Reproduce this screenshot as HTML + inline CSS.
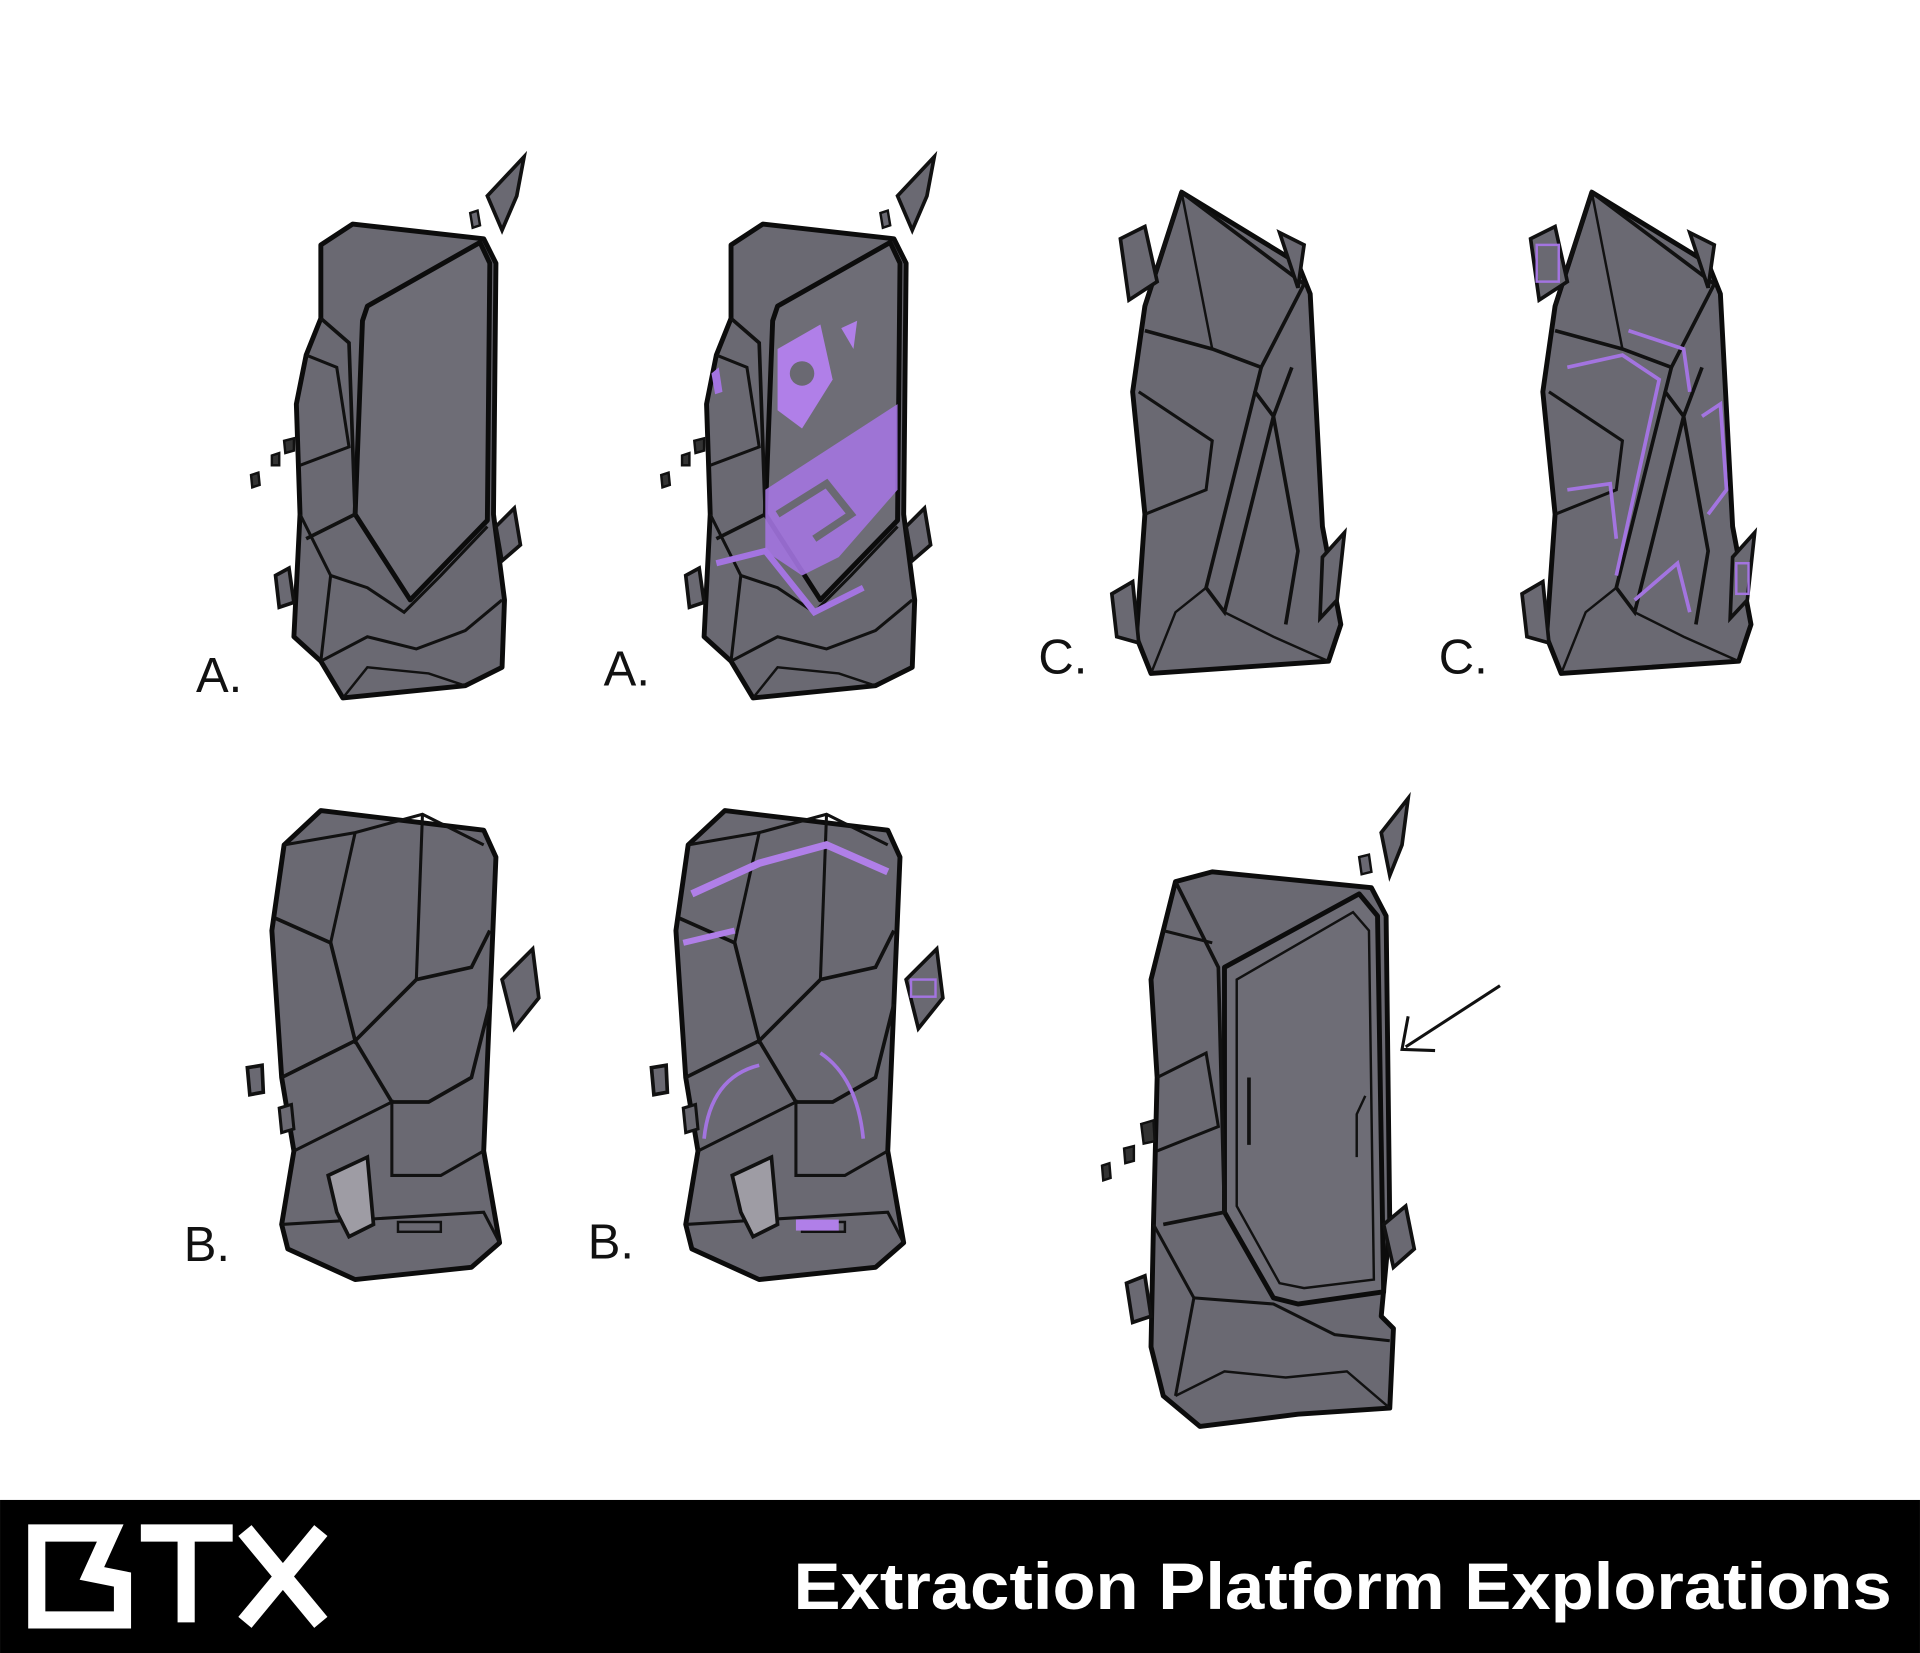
<!DOCTYPE html>
<html><head><meta charset="utf-8">
<style>
html,body{margin:0;padding:0;background:#fff;}
svg{display:block;}
</style></head><body>
<svg width="1920" height="1653" viewBox="0 0 1568 1350" xmlns="http://www.w3.org/2000/svg">
<defs>
<g id="rockA">
  <polygon points="288,183 395,195 405,215 403,420 412,490 410,545 380,560 280,570 262,540 240,520 245,420 242,330 250,290 262,260 262,200" fill="#6a6972" stroke="#0c0c0c" stroke-width="4" stroke-linejoin="round"/>
  <polygon points="300,250 392,198 400,215 398,425 335,490 290,420 296,262" fill="#6e6d76" stroke="#0c0c0c" stroke-width="4" stroke-linejoin="round"/>
  <polyline points="262,260 285,280 290,420 250,440" fill="none" stroke="#111" stroke-width="3"/>
  <polyline points="250,290 275,300 285,365 245,380" fill="none" stroke="#111" stroke-width="2.5"/>
  <polyline points="245,420 270,470 262,540" fill="none" stroke="#111" stroke-width="2.5"/>
  <polyline points="270,470 300,480 330,500 360,470 398,430" fill="none" stroke="#111" stroke-width="2.5"/>
  <polyline points="262,540 300,520 340,530 380,515 410,490" fill="none" stroke="#111" stroke-width="2.5"/>
  <polyline points="280,570 300,545 350,550 380,560" fill="none" stroke="#111" stroke-width="2"/>
  <polygon points="398,160 428,128 422,160 410,188" fill="#6a6972" stroke="#111" stroke-width="3"/>
  <polygon points="384,174 390,172 392,184 386,186" fill="#6a6972" stroke="#111" stroke-width="2"/>
  <polygon points="405,430 420,415 425,445 410,458" fill="#6a6972" stroke="#111" stroke-width="3"/>
  <polygon points="225,470 236,464 240,492 228,496" fill="#6a6972" stroke="#111" stroke-width="3"/>
  <polygon points="232,360 240,358 240,368 233,370" fill="#333" stroke="#111" stroke-width="2"/>
  <polygon points="222,372 228,370 228,380 222,380" fill="#333" stroke="#111" stroke-width="2"/>
  <polygon points="205,388 211,386 212,396 206,398" fill="#333" stroke="#111" stroke-width="2"/>
</g>
<g id="rockC">
  <polygon points="965,157 1060,215 1070,240 1080,430 1095,510 1085,540 940,550 928,520 935,420 925,320 935,250" fill="#6a6972" stroke="#0c0c0c" stroke-width="4" stroke-linejoin="round"/>
  <polyline points="935,250 965,157 1065,232 1030,300 990,285 935,270" fill="none" stroke="#111" stroke-width="3"/>
  <polyline points="965,157 990,285" fill="none" stroke="#111" stroke-width="2"/>
  <polyline points="1030,300 1025,320 1040,340 1055,300" fill="none" stroke="#111" stroke-width="3"/>
  <polyline points="1025,320 985,480 1000,500 1040,340 1060,450 1050,510" fill="none" stroke="#111" stroke-width="3"/>
  <polyline points="935,420 985,400 990,360 930,320" fill="none" stroke="#111" stroke-width="2.5"/>
  <polyline points="940,550 960,500 985,480" fill="none" stroke="#111" stroke-width="2"/>
  <polyline points="1000,500 1040,520 1085,540" fill="none" stroke="#111" stroke-width="2"/>
  <polygon points="915,195 935,185 945,230 922,245" fill="#6a6972" stroke="#111" stroke-width="3"/>
  <polygon points="1045,190 1065,200 1060,235" fill="#6a6972" stroke="#111" stroke-width="3"/>
  <polygon points="908,485 925,475 930,525 912,520" fill="#6a6972" stroke="#111" stroke-width="3"/>
  <polygon points="1080,455 1098,435 1092,490 1078,505" fill="#6a6972" stroke="#111" stroke-width="3"/>
</g>
<g id="rockB">
  <polygon points="262,662 395,678 405,700 400,820 395,940 408,1015 385,1035 290,1045 235,1020 230,1000 240,940 230,880 222,760 232,690" fill="#6a6972" stroke="#0c0c0c" stroke-width="4" stroke-linejoin="round"/>
  <polyline points="232,690 290,680 345,665 395,690" fill="none" stroke="#111" stroke-width="2.5"/>
  <polyline points="225,750 270,770 290,850 340,800 385,790 400,760" fill="none" stroke="#111" stroke-width="3"/>
  <polyline points="290,680 270,770" fill="none" stroke="#111" stroke-width="2.5"/>
  <polyline points="345,665 340,800" fill="none" stroke="#111" stroke-width="2.5"/>
  <polyline points="230,880 290,850 320,900 350,900 385,880 400,820" fill="none" stroke="#111" stroke-width="3"/>
  <polyline points="240,940 280,920 320,900 320,960 360,960 395,940" fill="none" stroke="#111" stroke-width="2.5"/>
  <polyline points="230,1000 395,990 408,1015" fill="none" stroke="#111" stroke-width="2.5"/>
  <polygon points="268,960 300,945 305,1000 285,1010 275,990" fill="#9e9ca4" stroke="#111" stroke-width="3"/>
  <rect x="325" y="998" width="35" height="8" fill="#6a6972" stroke="#111" stroke-width="2"/>
  <polygon points="410,800 435,775 440,815 420,840" fill="#6a6972" stroke="#111" stroke-width="3"/>
  <polygon points="202,872 214,870 215,892 204,894" fill="#6a6972" stroke="#111" stroke-width="3"/>
  <polygon points="228,905 238,902 240,922 230,925" fill="#6a6972" stroke="#111" stroke-width="2.5"/>
</g>
</defs>

<use href="#rockA"/>
<g transform="translate(335,0)">
  <use href="#rockA"/>
  <path d="M300,285 L335,265 L345,310 L320,350 L300,335 Z" fill="#b07fe8"/>
  <circle cx="320" cy="305" r="10" fill="#6a6972"/>
  <polygon points="352,268 365,262 362,285" fill="#b07fe8"/>
  <polygon points="290,400 398,330 398,400 350,455 320,470 290,450" fill="#a374e0" opacity="0.9"/>
  <polyline points="300,420 340,395 360,420 330,440" fill="none" stroke="#6a6972" stroke-width="6"/>
  <polyline points="250,460 290,450 330,500 370,480" fill="none" stroke="#a374e0" stroke-width="5"/>
  <polygon points="246,305 252,300 255,320 249,322" fill="#a374e0"/>
</g>
<use href="#rockC"/>
<g transform="translate(335,0)">
  <use href="#rockC"/>
  <polyline points="945,300 990,290 1020,310 985,470" fill="none" stroke="#a374e0" stroke-width="3"/>
  <polyline points="995,270 1040,285 1045,320" fill="none" stroke="#a374e0" stroke-width="3"/>
  <polyline points="945,400 980,395 985,440" fill="none" stroke="#a374e0" stroke-width="3"/>
  <polyline points="1000,490 1035,460 1045,500" fill="none" stroke="#a374e0" stroke-width="3"/>
  <polyline points="1055,340 1070,330 1075,400 1060,420" fill="none" stroke="#a374e0" stroke-width="3"/>
  <rect x="920" y="200" width="18" height="30" fill="none" stroke="#a374e0" stroke-width="2"/>
  <rect x="1083" y="460" width="10" height="25" fill="none" stroke="#a374e0" stroke-width="2"/>
</g>
<use href="#rockB"/>
<g transform="translate(330,0)">
  <use href="#rockB"/>
  <polyline points="235,730 290,705 345,690 395,712" fill="none" stroke="#b07fe8" stroke-width="6"/>
  <polyline points="228,770 270,760" fill="none" stroke="#b07fe8" stroke-width="5"/>
  <path d="M245,930 Q250,880 290,870" fill="none" stroke="#a374e0" stroke-width="3"/>
  <path d="M375,930 Q370,880 340,860" fill="none" stroke="#a374e0" stroke-width="3"/>
  <rect x="320" y="996" width="35" height="9" fill="#b07fe8"/>
  <rect x="414" y="800" width="20" height="14" fill="none" stroke="#a374e0" stroke-width="2"/>
</g>

<g>
  <polygon points="990,712 1120,725 1132,748 1135,1000 1128,1075 1138,1085 1135,1150 1060,1155 980,1165 950,1140 940,1100 942,1000 945,880 940,800 950,760 960,720" fill="#6a6972" stroke="#0c0c0c" stroke-width="4" stroke-linejoin="round"/>
  <polygon points="1000,790 1110,730 1125,748 1130,1055 1060,1065 1040,1060 1000,990" fill="#6e6d76" stroke="#0c0c0c" stroke-width="4" stroke-linejoin="round"/>
  <polygon points="1010,800 1105,745 1118,760 1122,1045 1065,1052 1045,1048 1010,985" fill="none" stroke="#111" stroke-width="2"/>
  <line x1="1020" y1="880" x2="1020" y2="935" stroke="#111" stroke-width="3"/>
  <polyline points="1115,895 1108,910 1108,945" fill="none" stroke="#111" stroke-width="2"/>
  <polyline points="960,720 995,790 1000,990 950,1000" fill="none" stroke="#111" stroke-width="3"/>
  <polyline points="950,760 990,770" fill="none" stroke="#111" stroke-width="2.5"/>
  <polyline points="945,880 985,860 995,920 945,940" fill="none" stroke="#111" stroke-width="2.5"/>
  <polyline points="942,1000 975,1060 960,1140" fill="none" stroke="#111" stroke-width="2.5"/>
  <polyline points="975,1060 1040,1065 1090,1090 1135,1095" fill="none" stroke="#111" stroke-width="2.5"/>
  <polyline points="960,1140 1000,1120 1050,1125 1100,1120 1135,1150" fill="none" stroke="#111" stroke-width="2"/>
  <polygon points="1128,680 1150,652 1145,690 1135,715" fill="#6a6972" stroke="#111" stroke-width="3"/>
  <polygon points="1110,700 1118,698 1120,712 1112,714" fill="#6a6972" stroke="#111" stroke-width="2"/>
  <polygon points="1130,1000 1148,985 1155,1020 1138,1035" fill="#6a6972" stroke="#111" stroke-width="3"/>
  <polygon points="920,1048 935,1042 940,1075 925,1080" fill="#6a6972" stroke="#111" stroke-width="3"/>
  <polygon points="932,918 942,915 943,932 934,934" fill="#333" stroke="#111" stroke-width="2"/>
  <polygon points="918,938 926,936 926,948 919,950" fill="#333" stroke="#111" stroke-width="2"/>
  <polygon points="900,952 906,950 907,962 901,964" fill="#333" stroke="#111" stroke-width="2"/>
  <line x1="1225" y1="805" x2="1148" y2="855" stroke="#111" stroke-width="2.5"/>
  <polyline points="1150,830 1145,857 1172,858" fill="none" stroke="#111" stroke-width="2.5"/>
</g>

<g font-family="'Liberation Sans', sans-serif" font-size="40" fill="#111">
  <text x="160" y="565">A.</text>
  <text x="493" y="560">A.</text>
  <text x="848" y="550">C.</text>
  <text x="1175" y="550">C.</text>
  <text x="150" y="1030">B.</text>
  <text x="480" y="1028">B.</text>
</g>

<rect x="0" y="1225" width="1568" height="125" fill="#000"/>
<g fill="none" stroke="#fff" stroke-width="14" stroke-linejoin="miter">
  <path d="M30,1323 L30,1252 L90,1252 L75,1285 L100,1290 L100,1323 Z"/>
  <path d="M115,1252 L190,1252 M152,1252 L152,1325"/>
  <path d="M200,1250 L262,1325 M262,1250 L200,1325"/>
</g>
<text x="648" y="1314" textLength="897" lengthAdjust="spacingAndGlyphs" font-family="'Liberation Sans', sans-serif" font-weight="bold" font-size="54" fill="#fff">Extraction Platform Explorations</text>
</svg>
</body></html>
